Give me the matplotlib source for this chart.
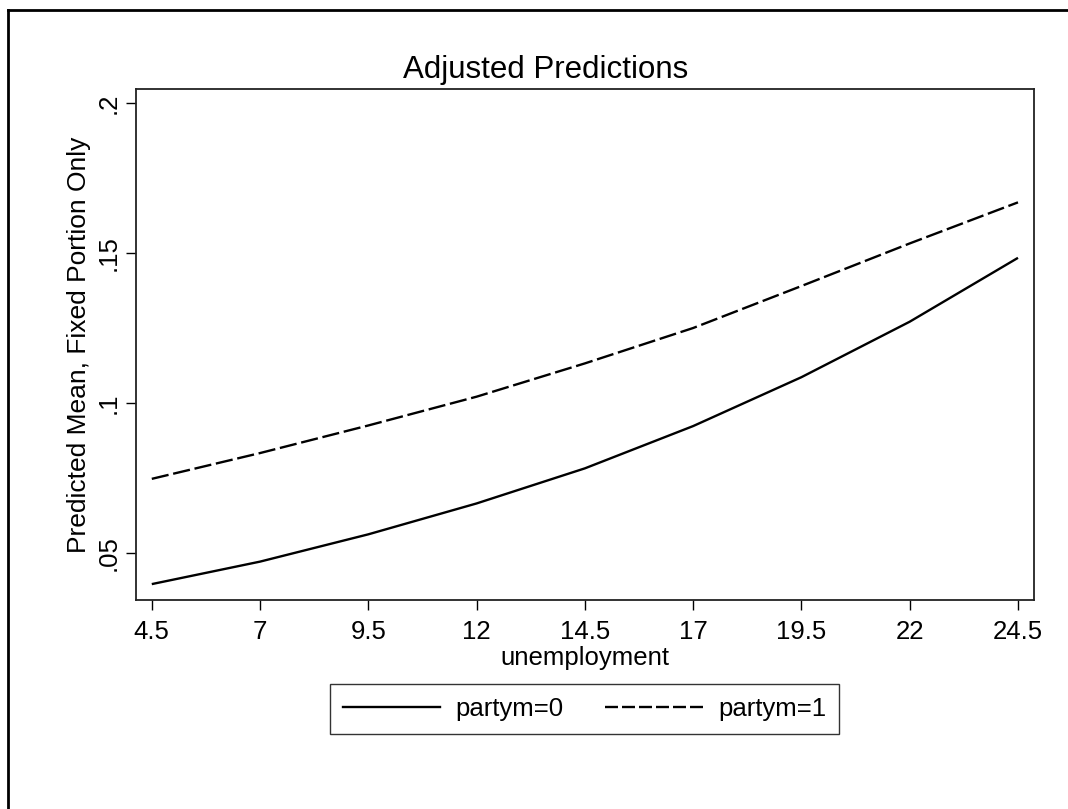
import matplotlib

matplotlib.use("Agg")
import matplotlib.pyplot as plt
from matplotlib.lines import Line2D

# values
unemployment = [4.5, 7, 9.5, 12, 14.5, 17, 19.5, 22, 24.5]
partym0 = [0.0396, 0.0471, 0.0562, 0.0665, 0.0782, 0.0923, 0.1086, 0.1271, 0.1484]
partym1 = [0.0747, 0.0833, 0.0925, 0.1021, 0.1132, 0.1250, 0.1390, 0.1532, 0.1669]
series_labels = ["partym=0", "partym=1"]
y_ticks = [0.05, 0.10, 0.15, 0.20]
y_tick_labels = [".05", ".1", ".15", ".2"]
x_tick_labels = ["4.5", "7", "9.5", "12", "14.5", "17", "19.5", "22", "24.5"]

plt.rcParams["font.family"] = ["Liberation Sans", "DejaVu Sans"]

W, H = 1068, 809
fig = plt.figure(figsize=(W / 100, H / 100), dpi=100)
ax = fig.add_axes([135.5 / W, 1 - 600 / H, (1034 - 135.5) / W, (600 - 89) / H])

dash = (0, (7.3, 2.0))
ax.plot(unemployment, partym0, color="black", linewidth=1.7, solid_capstyle="butt")
ax.plot(unemployment, partym1, color="black", linewidth=1.7, linestyle=dash, dash_capstyle="butt")

ax.set_xlim(4.124, 24.87)
ax.set_ylim(0.0343, 0.2047)
ax.set_xticks(unemployment)
ax.set_xticklabels(x_tick_labels)
ax.set_yticks(y_ticks)
ax.set_yticklabels(y_tick_labels, rotation=90, va="center")

ax.tick_params(axis="both", length=7.5, width=1.0, color="black", labelsize=18.5)
ax.tick_params(axis="x", pad=7)
ax.tick_params(axis="y", pad=3.5)
for spine in ax.spines.values():
    spine.set_linewidth(1.3)
    spine.set_color("#222222")

ax.set_xlabel("unemployment", fontsize=18.5, labelpad=1)
ax.set_ylabel("Predicted Mean, Fixed Portion Only", fontsize=19, labelpad=4)

fig.text(546 / W, 1 - 78 / H, "Adjusted Predictions", fontsize=22.5, ha="center", va="baseline")

handles = [
    Line2D([], [], color="black", linewidth=1.7),
    Line2D([], [], color="black", linewidth=1.7, linestyle=(0, (5.5, 1.7))),
]
leg = fig.legend(
    handles,
    series_labels,
    loc="center",
    bbox_to_anchor=(584.5 / W, 1 - 709 / H),
    ncol=2,
    fontsize=18.5,
    frameon=True,
    fancybox=False,
    handlelength=3.8,
    handletextpad=0.6,
    columnspacing=1.6,
    borderpad=0.5,
)
leg.get_frame().set_edgecolor("black")
leg.get_frame().set_linewidth(1.0)

# outer graph border (top and left edges visible in the reference)
fig.add_artist(Line2D([7.5 / W, 7.5 / W], [0, 1 - 9.5 / H], color="black", linewidth=2.0, transform=fig.transFigure))
fig.add_artist(Line2D([7.5 / W, 1], [1 - 9.5 / H, 1 - 9.5 / H], color="black", linewidth=2.0, transform=fig.transFigure))

fig.savefig("out.png", dpi=100)
plt.close(fig)
